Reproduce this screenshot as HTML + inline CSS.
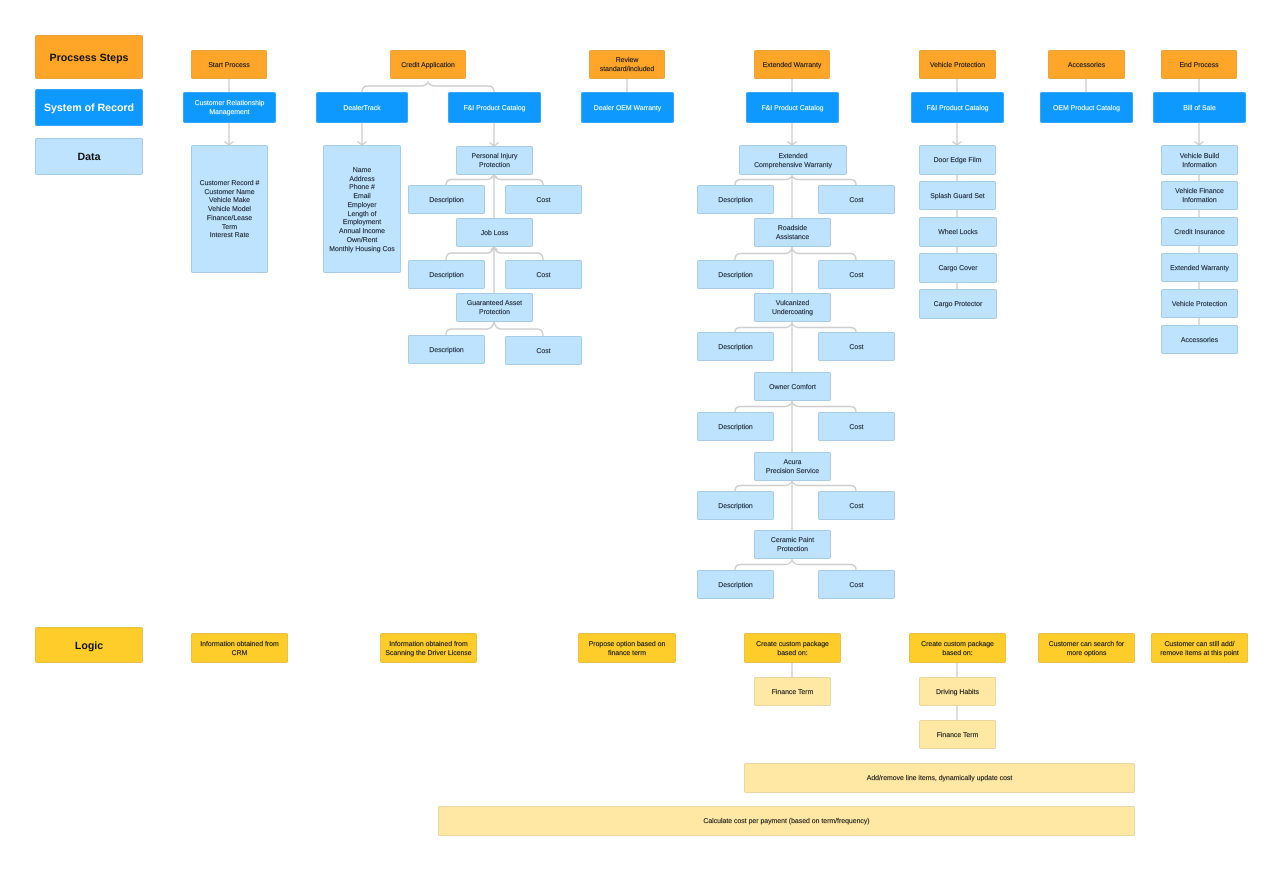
<!DOCTYPE html>
<html><head><meta charset="utf-8"><style>
html,body{margin:0;padding:0;background:#fff}
#p{position:relative;width:1283px;height:871px;overflow:hidden;background:#fff;font-family:"Liberation Sans",sans-serif;text-rendering:geometricPrecision}
#p svg{position:absolute;left:0;top:0}
.n{position:absolute;box-sizing:border-box;display:flex;align-items:center;justify-content:center;text-align:center;font-size:6.9px;line-height:8.75px;padding-top:3px;border-radius:2px;border:1.5px solid;color:#1a1a1a;-webkit-text-stroke:.15px currentColor;white-space:nowrap}
.o{background:#ffa629;border-color:#eba33f}
.b{background:#0d99ff;border-color:#3aa6f5;color:#eaf6ff}
.d{background:#bde3ff;border-color:#a8cce6;color:#1f2a36}
.y{background:#ffcd29;border-color:#e8c04a}
.l{background:#ffe8a3;border-color:#e9d79f}
.t{font-size:10.6px;font-weight:bold;line-height:14px;padding-top:1px;color:#111;-webkit-text-stroke:0}
.b.t{color:#fff}
</style></head><body><div id="p">
<svg width="1283" height="871" fill="none" stroke="#cfcfcf" stroke-width="1.4">
<path d="M229 79V92M229 122V145M224.500 141.500L229 145L233.500 141.500"/>
<path d="M362 92Q362 86 368 86H421Q426 86 428 82Q430 86 435 86H488Q494 86 494 92"/>
<path d="M362 122V145M357.500 141.500L362 145L366.500 141.500M494 122V146M489.500 142.500L494 146L498.500 142.500"/>
<path d="M494 175V218M494 246V293M490.500 178L494 175L497.500 178M490.500 250L494 247L497.500 250"/>
<path d="M446 185Q446 179.500 452 179.500H487Q492 179.500 494 175Q496 179.500 501 179.500H537Q543 179.500 543 185"/>
<path d="M446 260Q446 253 452 253H487Q492 253 494 247Q496 253 501 253H537Q543 253 543 260"/>
<path d="M446 335Q446 329 452 329H487Q492 329 494 322Q496 329 501 329H537Q543 329 543 336"/>
<path d="M627 79V92"/>
<path d="M792 79V92M792 122V145M787.500 141.500L792 145L796.500 141.500"/>
<path d="M792 176V218M792 247V293M792 322V372M792 401V452M792 481V530"/>
<path d="M735 185Q735 179.500 741 179.500H785Q790 179.500 792 176Q794 179.500 799 179.500H850Q856 179.500 856 185"/>
<path d="M735 260Q735 253.500 741 253.500H785Q790 253.500 792 248Q794 253.500 799 253.500H850Q856 253.500 856 260"/>
<path d="M735 332Q735 327.500 741 327.500H785Q790 327.500 792 323Q794 327.500 799 327.500H850Q856 327.500 856 332"/>
<path d="M735 412Q735 406.500 741 406.500H785Q790 406.500 792 402Q794 406.500 799 406.500H850Q856 406.500 856 412"/>
<path d="M735 491Q735 485.500 741 485.500H785Q790 485.500 792 481Q794 485.500 799 485.500H850Q856 485.500 856 491"/>
<path d="M735 570Q735 564.500 741 564.500H785Q790 564.500 792 560Q794 564.500 799 564.500H850Q856 564.500 856 570"/>
<path d="M957 79V92M957 122V145M952.500 141.500L957 145L961.500 141.500M957 175V181M957 210V217M957 246V253M957 282V289"/>
<path d="M1086 79V92"/>
<path d="M1199 79V92M1199 122V145M1194.500 141.500L1199 145L1203.500 141.500M1199 175V181M1199 210V217M1199 246V253M1199 282V289M1199 318V325"/>
<path d="M792 663V677M957 663V677M957 706V720"/>
</svg>

<div class="n o t" style="left:35px;top:35px;width:108px;height:44px">Procsess Steps</div>
<div class="n b t" style="left:35px;top:89px;width:108px;height:37px">System of Record</div>
<div class="n d t" style="left:35px;top:138px;width:108px;height:37px;color:#111">Data</div>
<div class="n y t" style="left:35px;top:627px;width:108px;height:36px">Logic</div>

<div class="n o" style="left:191px;top:50px;width:76px;height:29px">Start Process</div>
<div class="n b" style="left:183px;top:92px;width:93px;height:31px">Customer Relationship<br>Management</div>
<div class="n d" style="left:191px;top:145px;width:77px;height:128px">Customer Record #<br>Customer Name<br>Vehicle Make<br>Vehicle Model<br>Finance/Lease<br>Term<br>Interest Rate</div>

<div class="n o" style="left:390px;top:50px;width:76px;height:29px">Credit Application</div>
<div class="n b" style="left:316px;top:92px;width:92px;height:31px">DealerTrack</div>
<div class="n b" style="left:448px;top:92px;width:93px;height:31px">F&amp;I Product Catalog</div>
<div class="n d" style="left:323px;top:145px;width:78px;height:128px">Name<br>Address<br>Phone #<br>Email<br>Employer<br>Length of<br>Employment<br>Annual Income<br>Own/Rent<br>Monthly Housing Cos</div>

<div class="n d" style="left:456px;top:146px;width:77px;height:29px">Personal Injury<br>Protection</div>
<div class="n d" style="left:408px;top:185px;width:77px;height:29px">Description</div>
<div class="n d" style="left:505px;top:185px;width:77px;height:29px">Cost</div>
<div class="n d" style="left:456px;top:218px;width:77px;height:29px">Job Loss</div>
<div class="n d" style="left:408px;top:260px;width:77px;height:29px">Description</div>
<div class="n d" style="left:505px;top:260px;width:77px;height:29px">Cost</div>
<div class="n d" style="left:456px;top:293px;width:77px;height:29px">Guaranteed Asset<br>Protection</div>
<div class="n d" style="left:408px;top:335px;width:77px;height:29px">Description</div>
<div class="n d" style="left:505px;top:336px;width:77px;height:29px">Cost</div>

<div class="n o" style="left:589px;top:50px;width:76px;height:29px">Review<br>standard/included</div>
<div class="n b" style="left:581px;top:92px;width:93px;height:31px">Dealer OEM Warranty</div>

<div class="n o" style="left:754px;top:50px;width:76px;height:29px">Extended Warranty</div>
<div class="n b" style="left:746px;top:92px;width:93px;height:31px">F&amp;I Product Catalog</div>
<div class="n d" style="left:739px;top:145px;width:108px;height:30px">Extended<br>Comprehensive Warranty</div>
<div class="n d" style="left:697px;top:185px;width:77px;height:29px">Description</div>
<div class="n d" style="left:818px;top:185px;width:77px;height:29px">Cost</div>
<div class="n d" style="left:754px;top:218px;width:77px;height:29px">Roadside<br>Assistance</div>
<div class="n d" style="left:697px;top:260px;width:77px;height:29px">Description</div>
<div class="n d" style="left:818px;top:260px;width:77px;height:29px">Cost</div>
<div class="n d" style="left:754px;top:293px;width:77px;height:29px">Vulcanized<br>Undercoating</div>
<div class="n d" style="left:697px;top:332px;width:77px;height:29px">Description</div>
<div class="n d" style="left:818px;top:332px;width:77px;height:29px">Cost</div>
<div class="n d" style="left:754px;top:372px;width:77px;height:29px">Owner Comfort</div>
<div class="n d" style="left:697px;top:412px;width:77px;height:29px">Description</div>
<div class="n d" style="left:818px;top:412px;width:77px;height:29px">Cost</div>
<div class="n d" style="left:754px;top:452px;width:77px;height:29px">Acura<br>Precision Service</div>
<div class="n d" style="left:697px;top:491px;width:77px;height:29px">Description</div>
<div class="n d" style="left:818px;top:491px;width:77px;height:29px">Cost</div>
<div class="n d" style="left:754px;top:530px;width:77px;height:29px">Ceramic Paint<br>Protection</div>
<div class="n d" style="left:697px;top:570px;width:77px;height:29px">Description</div>
<div class="n d" style="left:818px;top:570px;width:77px;height:29px">Cost</div>

<div class="n o" style="left:919px;top:50px;width:77px;height:29px">Vehicle Protection</div>
<div class="n b" style="left:911px;top:92px;width:93px;height:31px">F&amp;I Product Catalog</div>
<div class="n d" style="left:919px;top:145px;width:77px;height:30px">Door Edge Film</div>
<div class="n d" style="left:919px;top:181px;width:77px;height:29px">Splash Guard Set</div>
<div class="n d" style="left:919px;top:217px;width:78px;height:30px">Wheel Locks</div>
<div class="n d" style="left:919px;top:253px;width:78px;height:30px">Cargo Cover</div>
<div class="n d" style="left:919px;top:289px;width:78px;height:30px">Cargo Protector</div>

<div class="n o" style="left:1048px;top:50px;width:77px;height:29px">Accessories</div>
<div class="n b" style="left:1040px;top:92px;width:93px;height:31px">OEM Product Catalog</div>

<div class="n o" style="left:1161px;top:50px;width:76px;height:29px">End Process</div>
<div class="n b" style="left:1153px;top:92px;width:93px;height:31px">Bill of Sale</div>
<div class="n d" style="left:1161px;top:145px;width:77px;height:30px">Vehicle Build<br>Information</div>
<div class="n d" style="left:1161px;top:181px;width:77px;height:29px">Vehicle Finance<br>Information</div>
<div class="n d" style="left:1161px;top:217px;width:77px;height:29px">Credit Insurance</div>
<div class="n d" style="left:1161px;top:253px;width:77px;height:29px">Extended Warranty</div>
<div class="n d" style="left:1161px;top:289px;width:77px;height:29px">Vehicle Protection</div>
<div class="n d" style="left:1161px;top:325px;width:77px;height:29px">Accessories</div>

<div class="n y" style="left:191px;top:633px;width:97px;height:30px">Information obtained from<br>CRM</div>
<div class="n y" style="left:380px;top:633px;width:97px;height:30px">Information obtained from<br>Scanning the Driver License</div>
<div class="n y" style="left:578px;top:633px;width:98px;height:30px">Propose option based on<br>finance term</div>
<div class="n y" style="left:744px;top:633px;width:97px;height:30px">Create custom package<br>based on:</div>
<div class="n y" style="left:909px;top:633px;width:97px;height:30px">Create custom package<br>based on:</div>
<div class="n y" style="left:1038px;top:633px;width:97px;height:30px">Customer can search for<br>more options</div>
<div class="n y" style="left:1151px;top:633px;width:97px;height:30px">Customer can still add/<br>remove items at this point</div>

<div class="n l" style="left:754px;top:677px;width:77px;height:29px">Finance Term</div>
<div class="n l" style="left:919px;top:677px;width:77px;height:29px">Driving Habits</div>
<div class="n l" style="left:919px;top:720px;width:77px;height:29px">Finance Term</div>
<div class="n l" style="left:744px;top:763px;width:391px;height:30px">Add/remove line items, dynamically update cost</div>
<div class="n l" style="left:438px;top:806px;width:697px;height:30px">Calculate cost per payment (based on term/frequency)</div>
</div></body></html>
